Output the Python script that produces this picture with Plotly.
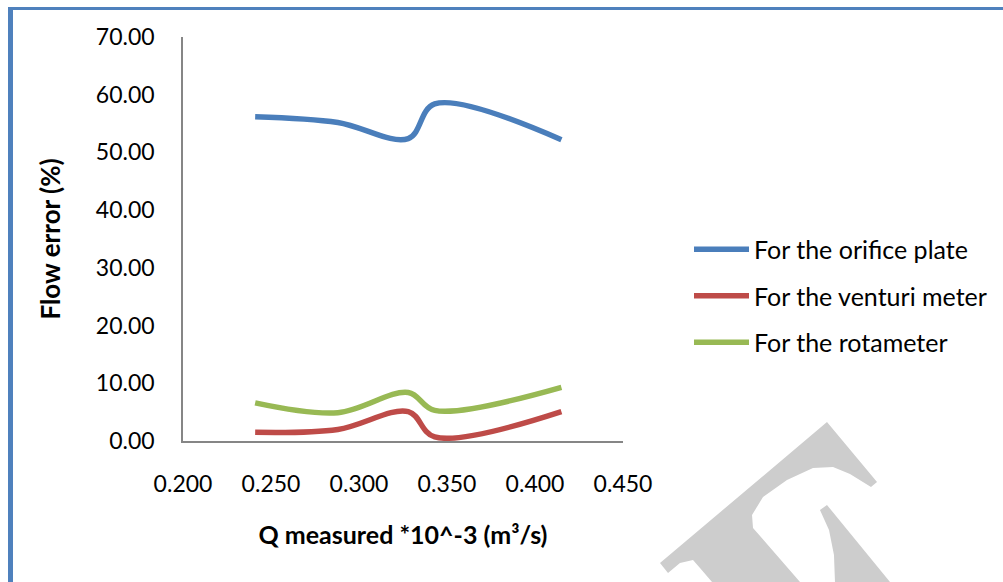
import plotly.graph_objects as go

# ---- data ----
q_measured = [0.241, 0.288, 0.328, 0.343, 0.415]
orifice_err = [56.2, 55.2, 52.4, 58.4, 52.2]
venturi_err = [1.5, 2.0, 5.1, 0.7, 5.1]
rotameter_err = [6.6, 4.9, 8.4, 5.3, 9.3]
series_names = ["For the orifice plate", "For the venturi meter", "For the rotameter"]
series_colors = ["#4A7EBB", "#BE4B48", "#98B954"]
x_ticks = [0.200, 0.250, 0.300, 0.350, 0.400, 0.450]
y_ticks = [0, 10, 20, 30, 40, 50, 60, 70]

W, H = 1003, 582
ML, MR, MT, MB = 183, 380, 37, 141
PW, PH = W - ML - MR, H - MT - MB

def px(x):
    return (x - ML) / PW

def py(y):
    return (H - MB - y) / PH

FONT = "Lato, Carlito, Calibri, sans-serif"

fig = go.Figure()
for i, (name, vals, col) in enumerate(zip(series_names, [orifice_err, venturi_err, rotameter_err], series_colors)):
    fig.add_trace(go.Scatter(
        x=q_measured, y=vals, name=name, mode="lines",
        line=dict(color=col, width=5.5, shape="spline", smoothing=1.0),
        legendgroup=f"g{i}",
    ))

def path(points):
    s = "M " + " L ".join(f"{px(a):.4f},{py(b):.4f}" for a, b in points) + " Z"
    return s

# watermark (decorative)
wm1 = [(660, 563), (827, 422), (877, 482), (871, 487), (850, 474), (833, 467), (813, 468),
       (787, 480), (763, 497), (752, 515), (753, 528), (800, 582), (712, 582), (700, 568),
       (693, 560), (680, 563), (668, 573)]
wm2 = [(820, 510), (827, 505), (890, 582), (835, 582), (834, 555), (829, 530)]
shapes = []
for wm in (wm1, wm2):
    shapes.append(dict(type="path", xref="paper", yref="paper", path=path(wm),
                       fillcolor="#CDCDCD", line=dict(width=0), layer="below"))

# page border (blue frame)
shapes.append(dict(type="line", xref="paper", yref="paper",
                   x0=px(10.5), x1=px(10.5), y0=py(7), y1=py(582),
                   line=dict(color="#4F81BD", width=5)))
shapes.append(dict(type="line", xref="paper", yref="paper",
                   x0=px(8), x1=px(1003), y0=py(8.5), y1=py(8.5),
                   line=dict(color="#4F81BD", width=3)))

fig.update_layout(
    width=W, height=H,
    margin=dict(l=ML, r=MR, t=MT, b=MB, autoexpand=False),
    paper_bgcolor="white", plot_bgcolor="white",
    font=dict(family=FONT, size=23, color="#000000"),
    showlegend=True,
    legend=dict(
        x=px(689), y=py(296), xanchor="left", yanchor="middle",
        font=dict(family=FONT, size=25, color="#000000"),
        itemwidth=55, tracegroupgap=11, bgcolor="rgba(0,0,0,0)",
    ),
    shapes=shapes,
    xaxis=dict(
        range=[0.2, 0.45], tickvals=x_ticks, tickformat=".3f",
        showgrid=False, zeroline=False, showline=True, linecolor="#868686", linewidth=1.5,
        ticks="", ticklabelstandoff=22, automargin=False,
        title=dict(text="<b>Q measured *10^-3 (m³/s)</b>", font=dict(family=FONT, size=25), standoff=30),
    ),
    yaxis=dict(
        range=[0, 70], tickvals=y_ticks, tickformat=".2f",
        showgrid=False, zeroline=False, showline=True, linecolor="#868686", linewidth=1.5,
        ticks="", ticklabelstandoff=22, automargin=False,
        title=dict(text="<b>Flow error (%)</b>", font=dict(family=FONT, size=26), standoff=28),
    ),
)

fig.write_html("out.html")
